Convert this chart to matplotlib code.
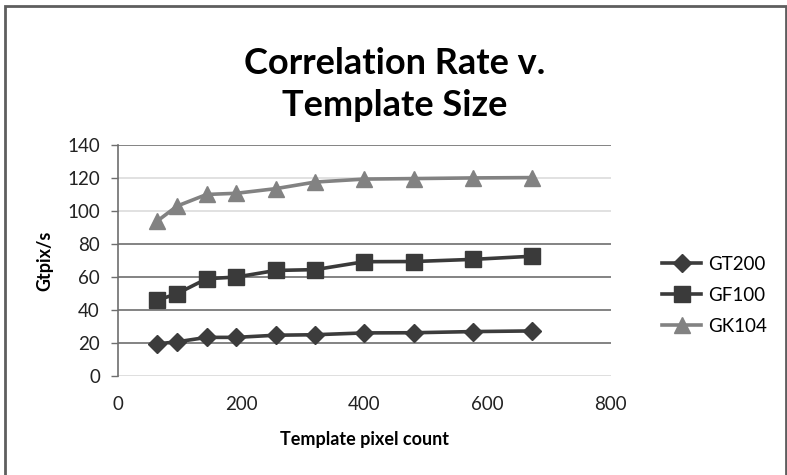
import matplotlib
matplotlib.use("Agg")
import matplotlib.pyplot as plt
from matplotlib.patches import Rectangle

template_px = [64, 96, 144, 192, 256, 320, 400, 480, 576, 672]
gt200 = [19.6, 20.8, 23.5, 23.5, 24.8, 25.1, 26.2, 26.3, 27.0, 27.4]
gf100 = [46, 50, 59, 60, 64, 64.5, 69.3, 69.4, 70.7, 72.6]
gk104 = [94, 103, 110, 110.7, 113.5, 117.5, 119.3, 119.6, 120, 120.2]
series_names = ["GT200", "GF100", "GK104"]
y_ticks = [0, 20, 40, 60, 80, 100, 120, 140]
x_ticks = [0, 200, 400, 600, 800]

plt.rcParams['font.family'] = ['Lato', 'DejaVu Sans']

fig = plt.figure(figsize=(7.87, 4.75), dpi=100)
fig.patch.set_facecolor('white')
ax = fig.add_axes([0.150, 0.208, 0.626, 0.487])

grid_colors = {0: '#d9d9d9', 20: '#6e6e6e', 40: '#6e6e6e', 60: '#6e6e6e',
               80: '#6e6e6e', 100: '#dcdcdc', 120: '#dcdcdc', 140: '#6e6e6e'}
for yv in y_ticks:
    ax.axhline(yv, color=grid_colors[yv], lw=1.2, zorder=1)

ax.plot(template_px, gt200, color='#3c3c3c', lw=2.6, marker='D', ms=9,
        label=series_names[0], zorder=3)
ax.plot(template_px, gf100, color='#3a3a3a', lw=2.6, marker='s', ms=11,
        label=series_names[1], zorder=3)
ax.plot(template_px, gk104, color='#828282', lw=2.6, marker='^', ms=12,
        label=series_names[2], zorder=3)

ax.set_xlim(0, 800)
ax.set_ylim(0, 140)
ax.set_xticks(x_ticks)
ax.set_yticks(y_ticks)
ax.tick_params(axis='y', length=5, width=1, color='#6e6e6e', labelsize=13.5,
               pad=8, labelcolor='#222222')
ax.tick_params(axis='x', length=0, labelsize=13.5, pad=14, labelcolor='#222222')
for s in ['top', 'right', 'bottom']:
    ax.spines[s].set_visible(False)
ax.spines['left'].set_color('#6e6e6e')
ax.spines['left'].set_linewidth(1.2)

ax.set_xlabel('Template pixel count', fontsize=13, fontweight='bold', labelpad=13)
ax.set_ylabel('Gtpix/s', fontsize=13, fontweight='bold', labelpad=10)

fig.text(0.502, 0.822, 'Correlation Rate v.\nTemplate Size', ha='center',
         va='center', fontsize=26, fontweight='bold', linespacing=1.3)

leg = ax.legend(loc='center left', bbox_to_anchor=(1.07, 0.35), frameon=False,
                fontsize=13.5, handlelength=2.1, labelspacing=0.75,
                handletextpad=0.35)

fig.patches.append(Rectangle((5/787, -0.01), 781/787, 1 - 6/475 + 0.01,
                             transform=fig.transFigure, fill=False,
                             edgecolor='#5e5e5e', lw=2))

fig.savefig('out.png', dpi=100)
